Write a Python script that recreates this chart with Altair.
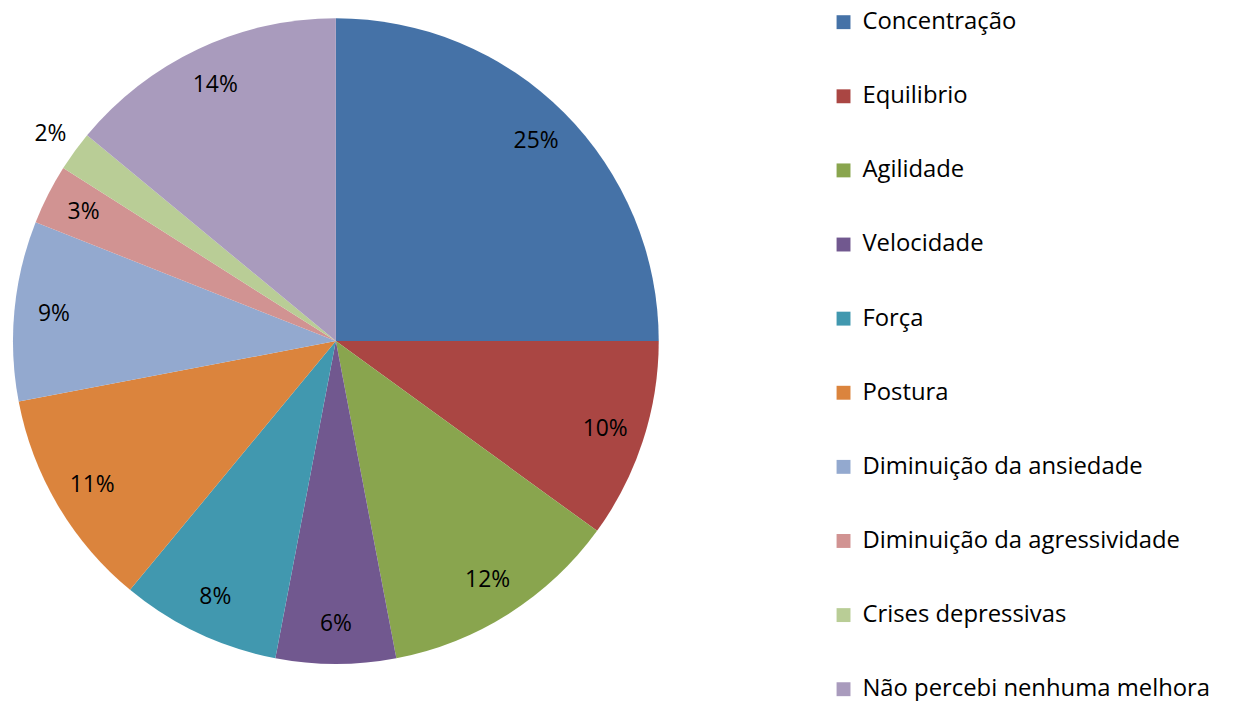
import altair as alt
import pandas as pd
import math

categories = ["Concentração", "Equilibrio", "Agilidade", "Velocidade", "Força", "Postura",
              "Diminuição da ansiedade", "Diminuição da agressividade", "Crises depressivas",
              "Não percebi nenhuma melhora"]
values = [25, 10, 12, 6, 8, 11, 9, 3, 2, 14]
colors = ["#4572A7", "#AA4643", "#89A54E", "#71588F", "#4198AF", "#DB843D",
          "#93A9CF", "#D19392", "#B9CD96", "#A99BBD"]

df = pd.DataFrame({"cat": categories, "value": values, "order": list(range(len(values)))})
df["label"] = [f"{v}%" for v in values]

FONT = "Open Sans"
theta_scale = alt.Scale(domain=[0, 100], range=[0, 2 * math.pi])

pie = alt.Chart(df).mark_arc(outerRadius=325, stroke=None).encode(
    theta=alt.Theta("value:Q", stack=True, scale=theta_scale),
    order=alt.Order("order:Q"),
    color=alt.Color("cat:N", scale=alt.Scale(domain=categories, range=colors),
                    sort=categories,
                    legend=alt.Legend(title=None, orient="none", legendX=829, legendY=0,
                                      symbolType="square", symbolSize=196, symbolStrokeWidth=0,
                                      labelFont=FONT, labelFontSize=24, labelColor="#000000",
                                      labelOffset=7, rowPadding=50.6, labelLimit=500)),
)

text = alt.Chart(df).transform_window(
    cum="sum(value)", sort=[alt.SortField("order")], frame=[None, 0]
).transform_calculate(
    mid="datum.cum - datum.value / 2",
    r="datum.value < 2.5 ? 355 : 285",
).mark_text(font=FONT, fontSize=23, color="#000000").encode(
    theta=alt.Theta("mid:Q", stack=None, scale=theta_scale),
    text="label:N",
    radius=alt.Radius("r:Q", scale=None),
)

chart = (pie + text).properties(
    width=660, height=666,
    autosize=alt.AutoSizeParams(type="none"),
    padding={"left": 0, "top": 0, "right": 569, "bottom": 27},
).configure_view(stroke=None)

chart.save("out.html", embed_options={"renderer": "svg", "actions": False})
